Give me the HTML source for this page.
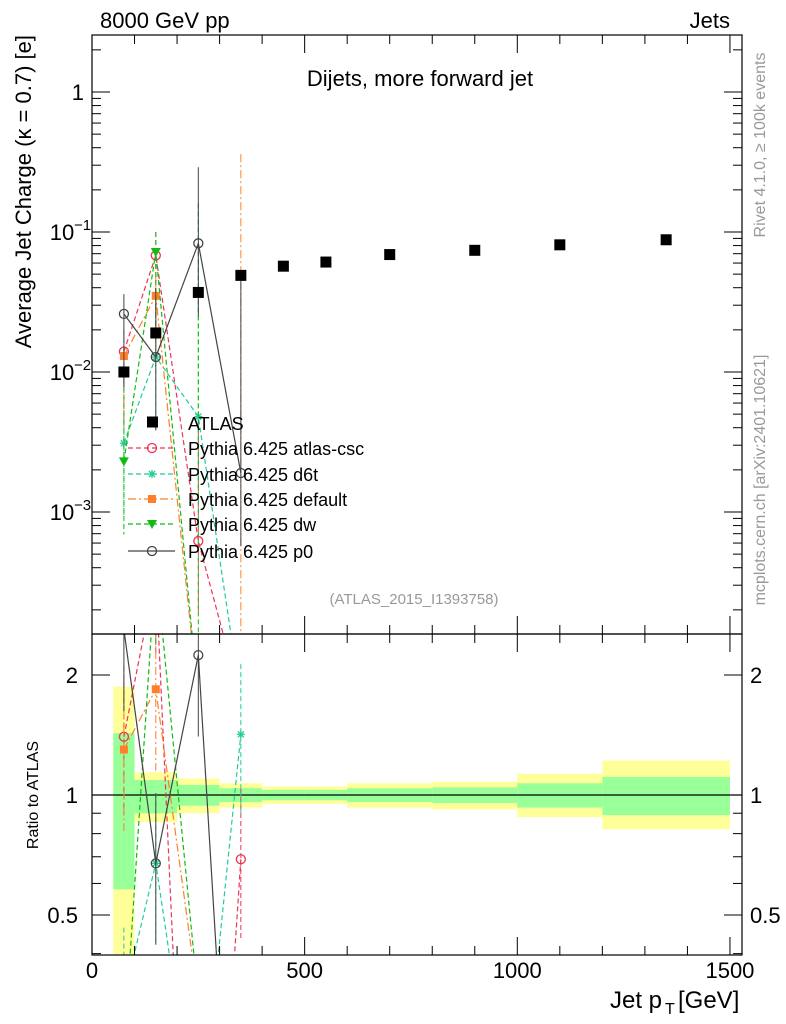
<!DOCTYPE html>
<html><head><meta charset="utf-8">
<style>
html,body{margin:0;padding:0;background:#fff;overflow:hidden;width:786px;height:1024px;}
svg{display:block;font-family:"Liberation Sans",sans-serif;}
</style></head>
<body>
<svg id="c" width="786" height="1024" viewBox="0 0 786 1024" xmlns="http://www.w3.org/2000/svg">
<defs>
<clipPath id="cm"><rect x="92" y="35" width="650" height="599"/></clipPath>
<clipPath id="cr"><rect x="92" y="634" width="650" height="321"/></clipPath>
</defs>
</svg>
<script>
const xCenters=[75,150,250,350,450,550,700,900,1100,1350];
const binLo=[50,100,200,300,400,500,600,800,1000,1200];
const binHi=[100,200,300,400,500,600,800,1000,1200,1500];
const atlasVals=[0.010,0.019,0.037,0.049,0.057,0.061,0.069,0.074,0.081,0.088];
const greenLo=[0.58,0.90,0.94,0.96,0.97,0.97,0.96,0.955,0.93,0.89];
const greenHi=[1.43,1.09,1.06,1.04,1.03,1.03,1.04,1.045,1.07,1.11];
const yellowLo=[0.3,0.855,0.90,0.93,0.95,0.95,0.93,0.92,0.88,0.82];
const yellowHi=[1.87,1.14,1.10,1.07,1.05,1.05,1.07,1.08,1.13,1.22];
const mcX=[75,150,250,350];
const cscVals=[0.014,0.068,0.00062,0];
const cscErrUp=[0.02,0.1,0.005,0];
const d6tVals=[0.0031,0.0128,0.0048,0];
const d6tErrUp=[0.005,0.03,0.16,0];
const defVals=[0.013,0.035,0,0];
const defErrUp=[0.02,0.05,0,0.36];
const dwVals=[0.0023,0.072,0,0];
const dwErrUp=[0.01,0.1,0.16,0];
const p0Vals=[0.026,0.0128,0.083,0.0019];
const p0ErrUp=[0.036,0.04,0.29,0.045];
const d6tRatio350=1.42, cscRatio350=0.69;
const yTicks=[0.001,0.01,0.1,1];
const yTickLabels=["10","10","10","1"];
const yTickExp=["−3","−2","−1",""];
const rTicks=[0.5,1,2];
const xTicks=[0,500,1000,1500];

const NS="http://www.w3.org/2000/svg";
const svg=document.getElementById('c');
const X=v=>92+v*0.4253;
const Y=v=>92-140*Math.log10(v);
const R=v=>795-120*Math.log2(v);
function el(tag,attrs,parent){const e=document.createElementNS(NS,tag);for(const k in attrs)e.setAttribute(k,attrs[k]);(parent||svg).appendChild(e);return e;}
function txt(s,attrs,parent){const e=el('text',attrs,parent);e.textContent=s;return e;}
const gm=el('g',{'clip-path':'url(#cm)'});


const gr=el('g',{'clip-path':'url(#cr)'});


const safeY=v=>v>0?Y(v):700;
const safeR=v=>v>0?R(v):1000;

for(let i=0;i<binLo.length;i++){
  const r1=el('rect',{x:X(binLo[i]),y:R(yellowHi[i]),width:X(binHi[i])-X(binLo[i]),height:R(yellowLo[i])-R(yellowHi[i]),fill:'#ffff99'},gr);
  
  
  const r2=el('rect',{x:X(binLo[i]),y:R(greenHi[i]),width:X(binHi[i])-X(binLo[i]),height:R(greenLo[i])-R(greenHi[i]),fill:'#99ff99'},gr);
  
  
}
el('line',{x1:92,x2:742,y1:R(1),y2:R(1),stroke:'#000','stroke-width':1.2},gr);

const series=[
 {name:'atlas-csc',vals:cscVals,err:cscErrUp,color:'#ee3355',dash:'5,3',m:'circle',fillm:'none'},
 {name:'d6t',vals:d6tVals,err:d6tErrUp,color:'#22cc99',dash:'5,3',m:'star',fillm:'#22cc99'},
 {name:'default',vals:defVals,err:defErrUp,color:'#ff7f2a',dash:'8,3,2,3',m:'square',fillm:'#ff7f2a'},
 {name:'dw',vals:dwVals,err:dwErrUp,color:'#11bb11',dash:'5,3',m:'tri',fillm:'#11bb11'},
 {name:'p0',vals:p0Vals,err:p0ErrUp,color:'#444',dash:'',m:'circle',fillm:'none'}
];
function marker(m,x,y,color,fill,parent){
  if(m==='circle')return el('circle',{cx:x,cy:y,r:4.5,fill:'#fff','fill-opacity':0,stroke:color,'stroke-width':1.3},parent);
  if(m==='square')return el('rect',{x:x-4,y:y-4,width:8,height:8,fill:color},parent);
  if(m==='tri')return el('polygon',{points:`${x-5},${y-4} ${x+5},${y-4} ${x},${y+5}`,fill:color},parent);
  const g=el('g',{stroke:color,'stroke-width':1.3},parent);
  el('line',{x1:x-4,x2:x+4,y1:y,y2:y},g);el('line',{x1:x,x2:x,y1:y-4,y2:y+4},g);
  el('line',{x1:x-3,x2:x+3,y1:y-3,y2:y+3},g);el('line',{x1:x-3,x2:x+3,y1:y+3,y2:y-3},g);
  return g;
}
series.forEach(s=>{
  const g=el('g',{},gm);
  
  
  const pts=mcX.map((x,i)=>`${X(x)},${safeY(s.vals[i])}`).join(' ');
  el('polyline',{points:pts,fill:'none',stroke:s.color,'stroke-width':1.2,'stroke-dasharray':s.dash},g);
  mcX.forEach((x,i)=>{
    if(s.err[i]>0)el('line',{x1:X(x),x2:X(x),y1:Y(s.err[i]),y2:s.vals[i]>0?Y(s.vals[i]*0.3):700,stroke:s.color,'stroke-width':1,'stroke-dasharray':s.dash},g);
    if(s.vals[i]>0)marker(s.m,X(x),Y(s.vals[i]),s.color,s.fillm,g);
  });
  const gR=el('g',{},gr);
  
  
  const rv=mcX.map((x,i)=>{let r=s.vals[i]/atlasVals[i];
    if(i===3&&s.name==='d6t')r=d6tRatio350; if(i===3&&s.name==='atlas-csc')r=cscRatio350; return r;});
  el('polyline',{points:mcX.map((x,i)=>`${X(x)},${safeR(rv[i])}`).join(' '),fill:'none',stroke:s.color,'stroke-width':1.2,'stroke-dasharray':s.dash},gR);
  mcX.forEach((x,i)=>{if(rv[i]>0){
    el('line',{x1:X(x),x2:X(x),y1:R(rv[i]*1.5),y2:R(rv[i]/1.6),stroke:s.color,'stroke-width':1,'stroke-dasharray':s.dash},gR);
    marker(s.m,X(x),R(rv[i]),s.color,s.fillm,gR);}});
});
const ga=el('g',{},gm);


xCenters.forEach((x,i)=>{
  const r=el('rect',{x:X(x)-5.5,y:Y(atlasVals[i])-5.5,width:11,height:11,fill:'#000'},ga);
  
  
});

el('rect',{x:92,y:35,width:650,height:599,fill:'none',stroke:'#000','stroke-width':1.2});
el('rect',{x:92,y:634,width:650,height:321,fill:'none',stroke:'#000','stroke-width':1.2});
for(let d=-4;d<=0;d++){for(let k=1;k<10;k++){const v=k*Math.pow(10,d);const y=Y(v);if(y<35||y>634)continue;
  const L=k===1?18:9;el('line',{x1:92,x2:92+L,y1:y,y2:y,stroke:'#000'});el('line',{x1:742,x2:742-L,y1:y,y2:y,stroke:'#000'});}}
yTicks.forEach((v,i)=>{const t=txt(yTickLabels[i],{x:yTickExp[i]?62:84,y:Y(v)+8,'font-size':22,'text-anchor':yTickExp[i]?'middle':'end'});
  
  if(yTickExp[i])txt(yTickExp[i],{x:74,y:Y(v)-2,'font-size':15});});
[0.4,0.5,0.6,0.7,0.8,0.9,1,2].forEach(v=>{const y=R(v);if(y<634||y>955)return;const L=(v===0.5||v===1||v===2)?18:9;
  el('line',{x1:92,x2:92+L,y1:y,y2:y,stroke:'#000'});el('line',{x1:742,x2:742-L,y1:y,y2:y,stroke:'#000'});});
rTicks.forEach(v=>{txt(String(v),{x:78,y:R(v)+8,'font-size':22,'text-anchor':'end'});txt(String(v),{x:750,y:R(v)+8,'font-size':22});});
for(let v=0;v<=1500;v+=100){const x=X(v);const L=v%500===0?18:9;
  [[35,1],[634,1],[955,-1],[634,-1]].forEach(([y0,s])=>el('line',{x1:x,x2:x,y1:y0,y2:y0+s*L,stroke:'#000'}));}
xTicks.forEach(v=>{const t=txt(String(v),{x:X(v),y:978,'font-size':22,'text-anchor':'middle'});
  });

txt('8000 GeV pp',{x:100,y:28,'font-size':22});
txt('Jets',{x:730,y:28,'font-size':22,'text-anchor':'end'});
txt('Dijets, more forward jet',{x:420,y:86,'font-size':22,'text-anchor':'middle'});
txt('(ATLAS_2015_I1393758)',{x:414,y:604,'font-size':15,fill:'#999','text-anchor':'middle'});
const xt=txt('Jet p',{x:610,y:1008,'font-size':24});
txt('T',{x:665,y:1014,'font-size':16});txt('[GeV]',{x:678,y:1008,'font-size':24});
const yt=txt('Average Jet Charge (κ = 0.7) [e]',{x:0,y:0,'font-size':22,'text-anchor':'end',transform:'translate(31,35) rotate(-90)'});

txt('Ratio to ATLAS',{x:0,y:0,'font-size':16,'text-anchor':'middle',transform:'translate(38,795) rotate(-90)'});
txt('Rivet 4.1.0, ≥ 100k events',{x:0,y:0,'font-size':16,fill:'#999','text-anchor':'middle',transform:'translate(765,145) rotate(-90)'});
txt('mcplots.cern.ch [arXiv:2401.10621]',{x:0,y:0,'font-size':16,fill:'#999','text-anchor':'middle',transform:'translate(765,480) rotate(-90)'});

const lg=el('g',{});
const ly=[422,448,474,499,524,551];
el('rect',{x:147,y:ly[0]-5.5,width:11,height:11,fill:'#000'},lg);
txt('ATLAS',{x:188,y:ly[0]+8,'font-size':18},lg);
series.forEach((s,i)=>{const y=ly[i+1];
  const e=el('g',{},lg);
  el('line',{x1:128,x2:175,y1:y,y2:y,stroke:s.color,'stroke-width':1.2,'stroke-dasharray':s.dash},e);
  marker(s.m,152,y,s.color,s.fillm,e);
  txt('Pythia 6.425 '+s.name,{x:188,y:y+7,'font-size':18},e);});
</script>
</body></html>
